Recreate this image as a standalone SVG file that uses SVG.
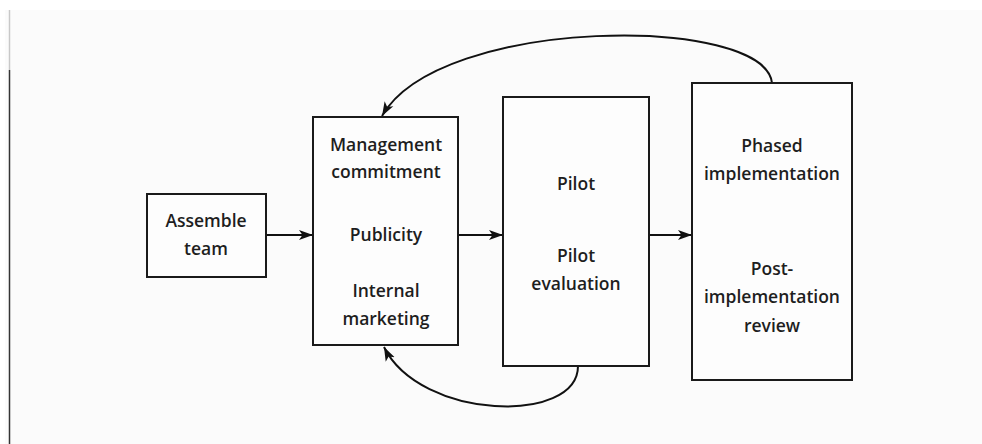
<svg xmlns="http://www.w3.org/2000/svg" width="982" height="444" viewBox="0 0 982 444">
  <defs>
    <marker id="head" markerUnits="userSpaceOnUse" markerWidth="16" markerHeight="12" refX="14" refY="6" orient="auto">
      <path d="M0,1 L14,6 L0,11 L3.5,6 Z" fill="#111"/>
    </marker>
    <style>
      .box { fill: #fdfdfd; stroke: #1a1a1a; stroke-width: 2; }
      .lbl { font-family: "Open Sans", "Liberation Sans", sans-serif; font-size: 17.5px; font-weight: 600; fill: #1e1e1e; text-anchor: middle; }
      .link { fill: none; stroke: #111; stroke-width: 2; marker-end: url(#head); }
    </style>
  </defs>

  <!-- page -->
  <rect x="0" y="0" width="982" height="444" fill="#ffffff"/>
  <rect x="5" y="10" width="977" height="434" fill="#fbfbfb"/>
  <line x1="9.5" y1="10" x2="9.5" y2="70" stroke="#c8c8c8" stroke-width="1.5"/>
  <line x1="9.5" y1="70" x2="9.5" y2="444" stroke="#333" stroke-width="1.5"/>

  <g id="connectors">
    <line class="link" x1="266" y1="235" x2="313" y2="235"/>
    <line class="link" x1="458" y1="235" x2="503" y2="235"/>
    <line class="link" x1="649" y1="235" x2="692" y2="235"/>
    <path class="link" d="M772,83 C765,15 440,15 382,116"/>
    <path class="link" d="M578,366 C578,425 420,420 384,347"/>
  </g>

  <g id="assemble-team">
    <rect class="box" x="147" y="194" width="119" height="83"/>
    <text class="lbl" x="206" y="227">Assemble</text>
    <text class="lbl" x="206" y="255">team</text>
  </g>

  <g id="commitment">
    <rect class="box" x="313" y="117" width="145" height="228"/>
    <text class="lbl" x="386" y="151">Management</text>
    <text class="lbl" x="386" y="178">commitment</text>
    <text class="lbl" x="386" y="241">Publicity</text>
    <text class="lbl" x="386" y="297">Internal</text>
    <text class="lbl" x="386" y="325">marketing</text>
  </g>

  <g id="pilot">
    <rect class="box" x="503" y="97" width="146" height="269"/>
    <text class="lbl" x="576" y="190">Pilot</text>
    <text class="lbl" x="576" y="262">Pilot</text>
    <text class="lbl" x="576" y="290">evaluation</text>
  </g>

  <g id="implementation">
    <rect class="box" x="692" y="83" width="160" height="297"/>
    <text class="lbl" x="772" y="152">Phased</text>
    <text class="lbl" x="772" y="180">implementation</text>
    <text class="lbl" x="772" y="275">Post-</text>
    <text class="lbl" x="772" y="303">implementation</text>
    <text class="lbl" x="772" y="332">review</text>
  </g>
</svg>
